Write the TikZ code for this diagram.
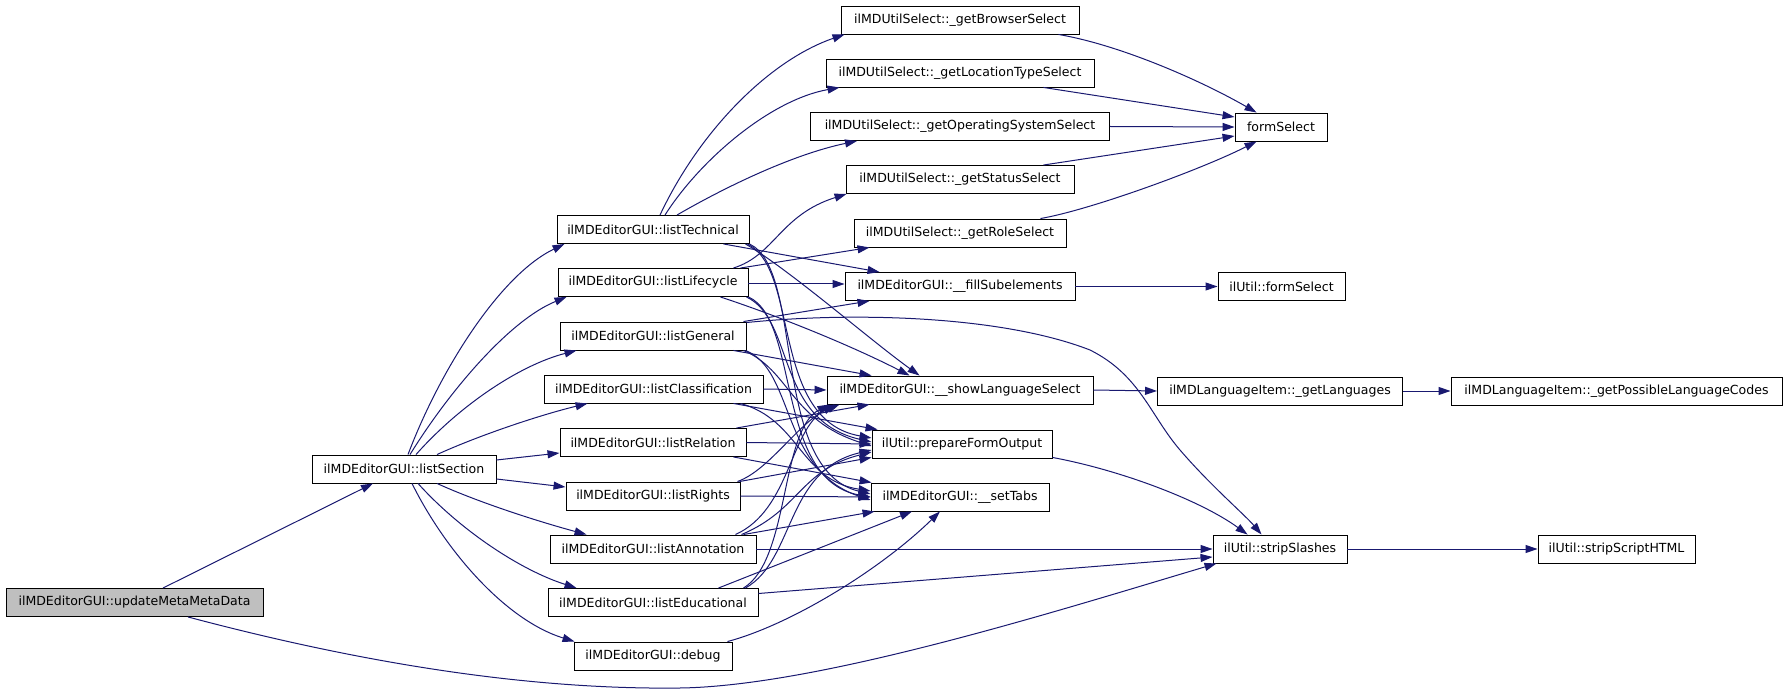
\documentclass[tikz,border=0pt]{standalone}
\usepackage{fontspec}
\setmainfont{DejaVu Sans}
\usetikzlibrary{arrows.meta,calc}
\definecolor{edgec}{HTML}{191970}
\definecolor{rootfill}{HTML}{BFBFBF}
\begin{document}
\begin{tikzpicture}[x=0.75pt,y=-0.75pt,
  fn/.style={draw=black, line width=0.7pt, rectangle, inner sep=0pt,
    minimum height=21pt, minimum width=#1*0.75pt, fill=white,
    font=\fontsize{9.4}{11}\selectfont},
  e/.style={draw=edgec, line width=0.75pt, -{Triangle[length=9pt,width=6pt]}, fill=none}]
\useasboundingbox (0,0) rectangle (1792,695);
% nodes
\node[fn=257, fill=rootfill] (upd) at (134.5,602.5) {ilMDEditorGUI::updateMetaMetaData};
\node[fn=184] (sec) at (404,469) {ilMDEditorGUI::listSection};
\node[fn=192] (tech) at (653,229.5) {ilMDEditorGUI::listTechnical};
\node[fn=190] (life) at (653,282.5) {ilMDEditorGUI::listLifecycle};
\node[fn=186] (gen) at (653,336) {ilMDEditorGUI::listGeneral};
\node[fn=219] (cls) at (653.5,389) {ilMDEditorGUI::listClassification};
\node[fn=186] (rel) at (653,442.5) {ilMDEditorGUI::listRelation};
\node[fn=174] (rig) at (653,496) {ilMDEditorGUI::listRights};
\node[fn=206] (ann) at (653,549) {ilMDEditorGUI::listAnnotation};
\node[fn=210] (edu) at (653,602.5) {ilMDEditorGUI::listEducational};
\node[fn=158] (dbg) at (653,656) {ilMDEditorGUI::debug};
\node[fn=238] (brw) at (960,20) {ilMDUtilSelect::\_getBrowserSelect};
\node[fn=268] (loc) at (960,73) {ilMDUtilSelect::\_getLocationTypeSelect};
\node[fn=299] (os) at (960,126.5) {ilMDUtilSelect::\_getOperatingSystemSelect};
\node[fn=228] (sta) at (960,179.5) {ilMDUtilSelect::\_getStatusSelect};
\node[fn=212] (role) at (960,233) {ilMDUtilSelect::\_getRoleSelect};
\node[fn=230] (fill) at (960,286.5) {ilMDEditorGUI::\_\_fillSubelements};
\node[fn=266] (slang) at (960,390) {ilMDEditorGUI::\_\_showLanguageSelect};
\node[fn=180] (pfo) at (962,444) {ilUtil::prepareFormOutput};
\node[fn=178] (tabs) at (960,497) {ilMDEditorGUI::\_\_setTabs};
\node[fn=92] (fsel) at (1281,127) {formSelect};
\node[fn=127] (ufs) at (1281.5,286.5) {ilUtil::formSelect};
\node[fn=245] (lang) at (1280,391) {ilMDLanguageItem::\_getLanguages};
\node[fn=134] (strip) at (1280,549) {ilUtil::stripSlashes};
\node[fn=331] (poss) at (1616.5,391) {ilMDLanguageItem::\_getPossibleLanguageCodes};
\node[fn=157] (html) at (1616.5,549) {ilUtil::stripScriptHTML};
% edges from root
\draw[e] ($(upd.north)+(28.5,0)$) -- ($(sec.south)+(-31,0)$);
\draw[e] ($(upd.south)+(53.5,0)$) .. controls (350,660) and (520,690) .. (680,688) .. controls (820,686) and (1060,610) .. ($(strip.south west)+(4,0)$);
% listSection
\draw[e] ($(sec.north)+(4,0)$) .. controls (440,370) and (500,275) .. ($(tech.south west)+(8,0)$);
\draw[e] ($(sec.north)+(6,0)$) .. controls (450,390) and (510,320) .. ($(life.south west)+(9,0)$);
\draw[e] ($(sec.north)+(12,0)$) .. controls (460,405) and (520,365) .. ($(gen.south west)+(17,0)$);
\draw[e] ($(sec.north)+(33,0)$) .. controls (480,435) and (540,415) .. ($(cls.south west)+(44,0)$);
\draw[e] ($(sec.east)+(0,-9)$) -- ($(rel.west)+(0,10.5)$);
\draw[e] ($(sec.east)+(0,10)$) -- ($(rig.west)+(0,-9)$);
\draw[e] ($(sec.south)+(33,0)$) .. controls (480,503) and (540,522) .. ($(ann.north west)+(37,0)$);
\draw[e] ($(sec.south)+(14,0)$) .. controls (460,530) and (520,570) .. ($(edu.north west)+(29,0)$);
\draw[e] ($(sec.south)+(8,0)$) .. controls (445,550) and (505,620) .. ($(dbg.north west)+(1,0)$);
% listTechnical
\draw[e] ($(tech.north)+(7,0)$) .. controls (700,130) and (770,60) .. ($(brw.south west)+(4,0)$);
\draw[e] ($(tech.north)+(12,0)$) .. controls (700,160) and (770,100) .. ($(loc.south west)+(14,0)$);
\draw[e] ($(tech.north)+(24,0)$) .. controls (720,190) and (790,155) .. ($(os.south west)+(47,0)$);
\draw[e] ($(tech.south east)+(-26,0)$) -- ($(fill.north west)+(35,0)$);
\draw[e] ($(tech.south east)+(-4,0)$) .. controls (790,270) and (870,340) .. ($(slang.north west)+(93,0)$);
\draw[e] ($(tech.south east)+(-2,0)$) .. controls (800,270) and (770,420) .. ($(pfo.west)+(0,-6)$);
\draw[e] (tech.south east) .. controls (805,270) and (770,470) .. ($(tabs.west)+(0,-3)$);
% listLifecycle
\draw[e] ($(life.north east)+(-15,0)$) .. controls (775,255) and (780,215) .. ($(sta.south west)+(1,0)$);
\draw[e] ($(life.north east)+(-8,0)$) -- ($(role.south west)+(16,0)$);
\draw[e] ($(life.east)+(0,1.5)$) -- ($(fill.west)+(0,-2.5)$);
\draw[e] ($(life.south east)+(-28,0)$) .. controls (790,320) and (860,350) .. ($(slang.north west)+(83,0)$);
\draw[e] ($(life.south east)+(-2,0)$) .. controls (795,320) and (775,420) .. ($(pfo.west)+(0,-2)$);
\draw[e] (life.south east) .. controls (800,320) and (775,480) .. (tabs.west);
% listGeneral
\draw[e] ($(gen.north east)+(-3,0)$) -- ($(fill.south west)+(25,0)$);
\draw[e] ($(gen.north east)+(0,1)$) .. controls (850,312) and (1000,315) .. (1090,350) .. controls (1140,375) and (1150,415) .. (1180,450) .. controls (1210,485) and (1245,515) .. ($(strip.north west)+(49,0)$);
\draw[e] ($(gen.south east)+(-13,0)$) -- ($(slang.north west)+(45,0)$);
\draw[e] ($(gen.south east)+(-3,0)$) .. controls (790,370) and (790,420) .. ($(pfo.west)+(0,2)$);
\draw[e] ($(gen.south east)+(-1,0)$) .. controls (795,370) and (780,470) .. ($(tabs.west)+(0,3)$);
% listClassification
\draw[e] (cls.east) -- (slang.west);
\draw[e] ($(cls.south east)+(-30,0)$) -- ($(pfo.north west)+(6,0)$);
\draw[e] ($(cls.south east)+(-23,0)$) .. controls (800,420) and (800,480) .. ($(tabs.west)+(0,-6)$);
% listRelation
\draw[e] ($(rel.north east)+(-10,0)$) -- ($(slang.south west)+(43,0)$);
\draw[e] (rel.east) -- (pfo.west);
\draw[e] ($(rel.south east)+(-13,0)$) -- ($(tabs.north west)+(1,0)$);
% listRights
\draw[e] ($(rig.north east)+(-3,0)$) .. controls (770,470) and (800,420) .. ($(slang.south west)+(13,0)$);
\draw[e] ($(rig.north east)+(-1,0)$) -- ($(pfo.south west)+(0,-1)$);
\draw[e] (rig.east) -- (tabs.west);
% listAnnotation
\draw[e] ($(ann.north east)+(-21,0)$) .. controls (790,510) and (790,430) .. ($(slang.south west)+(8,0)$);
\draw[e] ($(ann.north east)+(-15,0)$) .. controls (800,510) and (800,470) .. ($(pfo.west)+(0,8)$);
\draw[e] ($(ann.north east)+(-13,0)$) -- ($(tabs.south west)+(4,0)$);
\draw[e] (ann.east) -- (strip.west);
% listEducational
\draw[e] ($(edu.north east)+(-15,0)$) .. controls (790,560) and (780,430) .. ($(slang.south west)+(3,0)$);
\draw[e] ($(edu.north east)+(-13,0)$) .. controls (795,560) and (785,470) .. ($(pfo.west)+(0,6)$);
\draw[e] ($(edu.north east)+(-40,0)$) -- ($(tabs.south)+(-48,0)$);
\draw[e] ($(edu.east)+(0,-9)$) -- ($(strip.west)+(0,8)$);
% debug
\draw[e] ($(dbg.north east)+(-5,0)$) .. controls (790,625) and (880,570) .. ($(tabs.south)+(-20,0)$);
% third column
\draw[e] ($(brw.south east)+(-21,0)$) .. controls (1120,45) and (1200,80) .. ($(fsel.north west)+(22,0)$);
\draw[e] ($(loc.south east)+(-51,0)$) -- ($(fsel.west)+(0,-10)$);
\draw[e] (os.east) -- (fsel.west);
\draw[e] ($(sta.north east)+(-31,0)$) -- ($(fsel.west)+(0,9)$);
\draw[e] ($(role.north east)+(-26,0)$) .. controls (1090,210) and (1200,170) .. ($(fsel.south west)+(22,0)$);
\draw[e] (fill.east) -- (ufs.west);
\draw[e] (slang.east) -- (lang.west);
\draw[e] ($(pfo.south east)+(0,-1)$) .. controls (1120,470) and (1200,500) .. ($(strip.north west)+(35,0)$);
\draw[e] (lang.east) -- (poss.west);
\draw[e] (strip.east) -- (html.west);
\end{tikzpicture}
\end{document}
